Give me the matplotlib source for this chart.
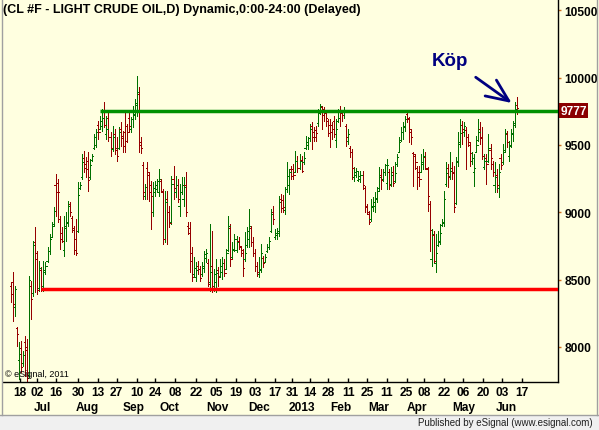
import matplotlib
matplotlib.use('Agg')
import matplotlib.pyplot as plt
import matplotlib.transforms as mtrans
from matplotlib.lines import Line2D
from matplotlib.patches import Rectangle
import numpy as np

plt.rcParams['font.family'] = ['Liberation Sans', 'DejaVu Sans']

# ---------------- data (daily OHLC, CL #F, Jun 2012 - Jun 2013) ----------------
opens = [
    8450, 8480, 8300, 8140, 7900, 7990, 7880, 8040, 8000, 7790,
    8450, 8400, 8780, 8650, 8440, 8570, 8450, 8560, 8640, 8710,
    8820, 8910, 9200, 9220, 8950, 8850, 8720, 8880, 8930, 9060,
    8960, 8880, 8800, 8860, 9180, 9260, 9400, 9360, 9380, 9260,
    9390, 9480, 9500, 9650, 9620, 9640, 9750, 9580, 9700, 9560,
    9470, 9580, 9480, 9480, 9620, 9570, 9600, 9640, 9700, 9620,
    9690, 9720, 9800, 9880, 9500, 9350, 9120, 9330, 9280, 9200,
    9000, 9150, 9170, 9150, 9230, 9150, 8800, 9100, 9000, 8930,
    9250, 9150, 9200, 9050, 9150, 9100, 9200, 8900, 8880, 8700,
    8540, 8520, 8600, 8580, 8540, 8590, 8660, 8620, 8480, 8600,
    8440, 8480, 8570, 8530, 8560, 8620, 8580, 8720, 8880, 8670,
    8730, 8720, 8790, 8740, 8700, 8650, 8760, 8800, 8880, 8780,
    8700, 8600, 8540, 8580, 8660, 8630, 8710, 8740, 8860, 9000,
    8820, 8830, 8850, 9100, 9090, 9020, 9170, 9200, 9320, 9320,
    9300, 9380, 9330, 9390, 9370, 9480, 9500, 9550, 9640, 9600,
    9610, 9660, 9740, 9780, 9770, 9740, 9680, 9650, 9650, 9680,
    9540, 9680, 9760, 9740, 9720, 9640, 9530, 9480, 9450, 9260,
    9280, 9240, 9250, 9280, 9180, 9050, 8990, 8950, 9040, 9050,
    9100, 9180, 9280, 9250, 9300, 9220, 9300, 9210, 9300, 9230,
    9360, 9450, 9540, 9600, 9630, 9730, 9690, 9600, 9440, 9420,
    9330, 9300, 9300, 9360, 9410, 9320, 9060, 8650, 8830, 8620,
    8760, 8780, 8905, 8920, 9210, 9330, 9270, 9330, 9300, 9070,
    9370, 9510, 9650, 9600, 9610, 9560, 9500, 9380, 9300, 9450,
    9540, 9620, 9550, 9340, 9400, 9380, 9460, 9360, 9200, 9280,
    9180, 9400, 9370, 9460, 9580, 9420, 9500, 9580, 9660, 9800,
]
highs = [
    8480, 8554, 8455, 8146, 8034, 8047, 7973, 8084, 8059, 8530,
    8492, 8789, 8888, 8715, 8641, 8591, 8641, 8628, 8740, 8839,
    8925, 9037, 9284, 9247, 8975, 8888, 8975, 9000, 9086, 9074,
    8975, 8901, 8950, 9222, 9222, 9433, 9458, 9408, 9445, 9396,
    9433, 9581, 9619, 9680, 9718, 9767, 9817, 9718, 9755, 9594,
    9643, 9619, 9557, 9631, 9668, 9606, 9742, 9656, 9755, 9705,
    9792, 9841, 10014, 9928, 9560, 9371, 9210, 9371, 9297, 9235,
    9222, 9235, 9247, 9321, 9247, 9173, 9161, 9161, 9049, 9272,
    9346, 9272, 9247, 9210, 9260, 9260, 9297, 8925, 8925, 8740,
    8666, 8628, 8641, 8604, 8628, 8715, 8727, 8653, 8913, 8864,
    8579, 8653, 8591, 8653, 8666, 8653, 8727, 8975, 8913, 8777,
    8839, 8826, 8814, 8752, 8727, 8851, 8888, 9024, 8901, 8814,
    8727, 8628, 8666, 8765, 8678, 8690, 8765, 8814, 9024, 9049,
    8876, 8880, 9124, 9136, 9130, 9185, 9371, 9321, 9346, 9359,
    9458, 9420, 9433, 9420, 9445, 9569, 9557, 9656, 9668, 9631,
    9640, 9767, 9804, 9792, 9780, 9755, 9693, 9693, 9668, 9718,
    9693, 9767, 9792, 9760, 9780, 9656, 9620, 9495, 9470, 9334,
    9330, 9297, 9309, 9309, 9198, 9062, 9012, 9099, 9111, 9148,
    9185, 9334, 9321, 9320, 9360, 9396, 9321, 9334, 9346, 9371,
    9433, 9557, 9631, 9668, 9718, 9755, 9705, 9620, 9445, 9433,
    9346, 9346, 9433, 9470, 9445, 9334, 9086, 8876, 8864, 8839,
    8864, 8913, 8950, 9161, 9371, 9359, 9445, 9371, 9346, 9408,
    9594, 9693, 9680, 9668, 9631, 9581, 9520, 9445, 9433, 9569,
    9693, 9668, 9631, 9433, 9433, 9581, 9507, 9383, 9371, 9321,
    9359, 9433, 9507, 9619, 9606, 9532, 9619, 9680, 9817, 9854,
]
lows = [
    8331, 8195, 8233, 8010, 7762, 7812, 7861, 7787, 7750, 7775,
    8208, 8381, 8406, 8393, 8418, 8418, 8418, 8542, 8628, 8690,
    8814, 8901, 8975, 8925, 8727, 8777, 8678, 8789, 8901, 8975,
    8851, 8690, 8680, 8851, 9173, 9247, 9297, 9260, 9161, 9247,
    9383, 9470, 9482, 9544, 9619, 9606, 9631, 9544, 9532, 9420,
    9458, 9433, 9383, 9470, 9495, 9445, 9445, 9520, 9594, 9594,
    9631, 9693, 9718, 9445, 9440, 9099, 9099, 9099, 9086, 8876,
    8975, 9124, 9148, 9124, 9148, 8765, 8777, 8765, 8888, 8913,
    9099, 9111, 9074, 8975, 9136, 9049, 8975, 8839, 8554, 8492,
    8517, 8492, 8542, 8492, 8530, 8554, 8628, 8455, 8418, 8406,
    8418, 8411, 8455, 8517, 8505, 8530, 8579, 8715, 8604, 8653,
    8715, 8703, 8727, 8678, 8530, 8641, 8740, 8740, 8752, 8678,
    8567, 8530, 8517, 8554, 8591, 8628, 8703, 8727, 8851, 8913,
    8802, 8800, 8826, 9000, 9000, 8987, 9148, 9136, 9247, 9247,
    9297, 9297, 9321, 9297, 9359, 9470, 9470, 9532, 9470, 9532,
    9532, 9643, 9730, 9619, 9680, 9643, 9569, 9482, 9544, 9557,
    9482, 9668, 9643, 9680, 9700, 9495, 9507, 9408, 9247, 9235,
    9260, 9235, 9223, 9173, 9000, 8987, 8913, 8938, 9012, 9000,
    9074, 9161, 9173, 9230, 9280, 9173, 9173, 9198, 9198, 9223,
    9346, 9445, 9532, 9544, 9606, 9668, 9520, 9507, 9198, 9321,
    9173, 9198, 9297, 9321, 9321, 9012, 8715, 8604, 8628, 8554,
    8752, 8765, 8901, 8901, 9198, 9185, 9247, 9247, 9000, 9062,
    9346, 9482, 9507, 9569, 9321, 9495, 9346, 9359, 9198, 9445,
    9532, 9507, 9396, 9321, 9210, 9371, 9321, 9272, 9148, 9148,
    9111, 9321, 9359, 9445, 9482, 9383, 9482, 9532, 9631, 9730,
]
closes = [
    8393, 8320, 8430, 8100, 7950, 7850, 7940, 7980, 7770, 8500,
    8360, 8760, 8700, 8420, 8590, 8430, 8570, 8600, 8710, 8800,
    8900, 9010, 9150, 9150, 8800, 8790, 8900, 8920, 9050, 9000,
    8870, 8720, 8700, 9130, 9200, 9370, 9330, 9320, 9240, 9350,
    9420, 9560, 9600, 9600, 9680, 9700, 9650, 9620, 9560, 9480,
    9560, 9460, 9420, 9600, 9550, 9490, 9530, 9600, 9640, 9690,
    9730, 9810, 9890, 9520, 9480, 9150, 9190, 9300, 9150, 9124,
    9180, 9200, 9230, 9250, 9160, 8800, 9080, 9000, 8920, 9210,
    9180, 9200, 9100, 9150, 9200, 9190, 9000, 8850, 8640, 8520,
    8590, 8570, 8580, 8510, 8600, 8690, 8700, 8470, 8560, 8450,
    8540, 8550, 8520, 8600, 8620, 8550, 8700, 8900, 8650, 8720,
    8800, 8780, 8750, 8720, 8590, 8700, 8860, 8900, 8780, 8700,
    8600, 8560, 8570, 8700, 8620, 8670, 8740, 8790, 8990, 8950,
    8850, 8860, 9080, 9030, 9040, 9170, 9270, 9300, 9270, 9280,
    9380, 9330, 9380, 9310, 9400, 9520, 9550, 9620, 9560, 9560,
    9590, 9740, 9790, 9720, 9750, 9700, 9590, 9600, 9620, 9580,
    9620, 9700, 9740, 9720, 9750, 9560, 9580, 9450, 9330, 9300,
    9310, 9270, 9280, 9200, 9040, 9000, 8930, 9050, 9080, 9110,
    9160, 9260, 9240, 9300, 9350, 9350, 9200, 9280, 9220, 9290,
    9410, 9520, 9600, 9640, 9690, 9700, 9620, 9560, 9430, 9370,
    9260, 9250, 9370, 9420, 9330, 9120, 8870, 8840, 8640, 8700,
    8790, 8850, 8930, 9100, 9290, 9260, 9310, 9290, 9040, 9380,
    9520, 9590, 9620, 9640, 9560, 9520, 9440, 9400, 9330, 9500,
    9600, 9560, 9420, 9380, 9360, 9480, 9400, 9300, 9260, 9200,
    9300, 9350, 9450, 9590, 9520, 9490, 9590, 9650, 9770, 9777,
]

resistance_level = 9750
resistance_start = 44
support_level = 8428
support_start = 15

day_labels = ['18', '02', '16', '30', '13', '27', '10', '24', '08', '22', '05', '19', '03',
              '17', '31', '14', '28', '11', '25', '11', '25', '08', '22', '06', '20', '03', '17']
day_pos = [4.4, 13.0, 22.0, 33.1, 43.0, 52.0, 61.9, 70.9, 80.7, 91.0, 100.9, 110.7, 120.1,
           129.9, 138.3, 147.1, 156.2, 166.0, 175.1, 184.9, 194.7, 203.2, 213.1, 222.4, 232.3,
           241.6, 251.5]
month_labels = ['Jul', 'Aug', 'Sep', 'Oct', 'Nov', 'Dec', '2013', 'Feb', 'Mar', 'Apr', 'May', 'Jun']
month_pos = [15.6, 37.4, 60.5, 77.8, 101.4, 122.0, 143.2, 162.4, 181.1, 199.8, 222.9, 243.6]
y_ticks = [8000, 8500, 9000, 9500, 10000, 10500]

title = '(CL #F - LIGHT CRUDE OIL,D) Dynamic,0:00-24:00 (Delayed)'

# ---------------- figure ----------------
W, H = 599, 431
BG = '#FFFFE0'
fig = plt.figure(figsize=(W / 100, H / 100), dpi=100)
fig.patch.set_facecolor(BG)

ax = fig.add_axes([3 / W, (H - 383) / H, 555 / W, 383 / H])
ax.set_facecolor(BG)

o = np.array(opens, dtype=float)
h = np.array(highs, dtype=float)
l = np.array(lows, dtype=float)
c = np.array(closes, dtype=float)
x = np.arange(len(c))
cols = np.where(c >= o, '#007000', '#960000')

ax.vlines(x, l, h, colors=cols, lw=0.72, antialiased=False)
ax.hlines(o, x - 0.6, x, colors=cols, lw=0.72, antialiased=False)
ax.hlines(c, x, x + 0.6, colors=cols, lw=0.72, antialiased=False)

xmin, xmax = -3.9, 269.2
ax.hlines(resistance_level, resistance_start, xmax, colors='#009000', lw=2.5, zorder=3)
ax.hlines(support_level, support_start, xmax, colors='#FF0000', lw=2.5, zorder=3)

ax.set_xlim(xmin, xmax)
ax.set_ylim(7740, 10584)

for s in ['top', 'left']:
    ax.spines[s].set_visible(False)
for s in ['bottom', 'right']:
    ax.spines[s].set_color('black')
    ax.spines[s].set_linewidth(1.0)

ax.yaxis.tick_right()
ax.set_yticks(y_ticks)
ax.set_yticklabels([str(v) for v in y_ticks], fontweight='bold')
ax.tick_params(axis='y', length=2, width=1, color='#D07020', pad=2.5, labelsize=8.6)

ax.set_xticks(day_pos)
ax.set_xticklabels(day_labels, fontweight='bold')
ax.tick_params(axis='x', direction='in', length=3, width=1, pad=3, labelsize=8.6)

blend = mtrans.blended_transform_factory(ax.transData, ax.transAxes)
for p, m in zip(month_pos, month_labels):
    ax.text(p, -25 / 383, m, transform=blend, ha='center', va='center',
            fontsize=8.6, fontweight='bold', clip_on=False)

# last price box (sits on the resistance line level in the picture)
blend_y = mtrans.blended_transform_factory(ax.transAxes, ax.transData)
shift = mtrans.ScaledTranslation(0, -3 / 100, fig.dpi_scale_trans)
ax.text(1.004, closes[-1], str(closes[-1]), transform=blend_y + shift, ha='left', va='center',
        color='white', fontsize=8.6, fontweight='bold', clip_on=False,
        bbox=dict(boxstyle='square,pad=0.12', fc='#8B0000', ec='none'))

# Köp annotation
ax.text(216.0, 10127, 'Köp', color='#000080', fontsize=13.5, fontweight='bold',
        ha='center', va='center')
ax.annotate('', xy=(246.4, 9812), xytext=(228.7, 10003),
            arrowprops=dict(arrowstyle='->,head_length=0.8,head_width=0.35',
                            mutation_scale=20, lw=2, color='#000080',
                            shrinkA=0, shrinkB=0))

# title and credits
fig.text(3 / W, 1 - 10 / H, title, ha='left', va='center', fontsize=9, fontweight='bold')
fig.text(5 / W, 1 - 375 / H, '\u00a9 eSignal, 2011', ha='left', va='center', fontsize=6.5)

# status bar and frame
fig.patches.append(Rectangle((0, 0), 1, 15 / H, transform=fig.transFigure,
                             fc='#F0F0F0', ec='none', zorder=0))
fig.lines.append(Line2D([0, 1], [15.5 / H, 15.5 / H], transform=fig.transFigure,
                        color='#A0A0A0', lw=1))
fig.lines.append(Line2D([1.5 / W, 1.5 / W], [15 / H, 1], transform=fig.transFigure,
                        color='#A0A0A0', lw=1))
fig.lines.append(Line2D([596.5 / W, 596.5 / W], [15 / H, 1], transform=fig.transFigure,
                        color='#A0A0A0', lw=1))
fig.text(593 / W, 7.5 / H, 'Published by eSignal (www.esignal.com)', ha='right', va='center',
         fontsize=7, color='#202020')

fig.savefig('out.png', dpi=100, facecolor=BG)
